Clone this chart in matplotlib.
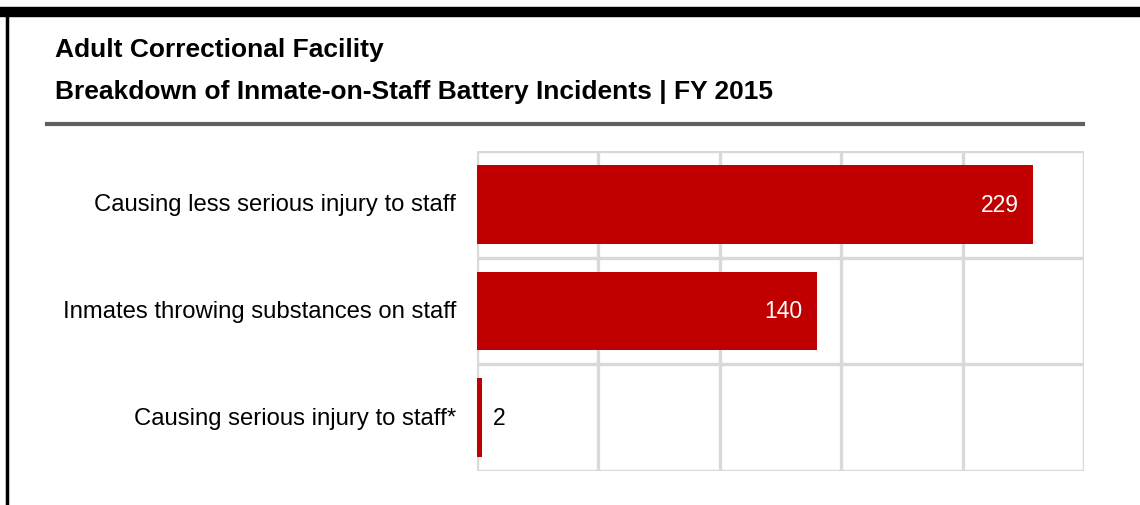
import numpy as np
import matplotlib.pyplot as plt
from matplotlib.lines import Line2D

plt.rcParams['font.family'] = ['Liberation Sans', 'DejaVu Sans']

categories = ['Causing less serious injury to staff',
              'Inmates throwing substances on staff',
              'Causing serious injury to staff*']
values = [229, 140, 2]
title1 = 'Adult Correctional Facility'
title2 = 'Breakdown of Inmate-on-Staff Battery Incidents | FY 2015'

red = '#C00000'
grid_col = '#D9D9D9'

fig = plt.figure(figsize=(11.4, 5.06), dpi=100)

# plot area in figure pixels: x 477..1084, y 152..472 (from top)
W, H = 1140, 506
ax = fig.add_axes([477 / W, 1 - 472 / H, (1084 - 477) / W, (472 - 152) / H])

y = np.arange(len(categories))
ax.barh(y, values, height=0.74, color=red, zorder=3)
ax.set_xlim(0, 250)
ax.set_ylim(len(categories) - 0.5, -0.5)

for xv in np.arange(0, 251, 50):
    ax.axvline(xv, color=grid_col, lw=2.4, zorder=1)
for yv in np.arange(-0.5, len(categories), 1.0):
    ax.axhline(yv, color=grid_col, lw=2.4, zorder=1)

for s in ax.spines.values():
    s.set_visible(False)
ax.set_xticks([])
ax.set_yticks([])

for i, v in enumerate(values):
    if v > 20:
        ax.text(v - 6, i, str(v), ha='right', va='center', color='white', fontsize=16.5, zorder=4)
    else:
        ax.text(v + 4.5, i, str(v), ha='left', va='center', color='black', fontsize=16.5, zorder=4)
    ax.text(-8.5, i, categories[i], ha='right', va='center', color='black', fontsize=17.2,
            clip_on=False)

# titles
fig.text(55 / W, 1 - 50 / H, title1, fontsize=19, fontweight='bold', va='center', ha='left')
fig.text(55 / W, 1 - 92 / H, title2, fontsize=19, fontweight='bold', va='center', ha='left')

# gray rule under title
fig.add_artist(Line2D([47 / W, 1083 / W], [1 - 125 / H, 1 - 125 / H],
                      transform=fig.transFigure, color='#606060', lw=3))

# black frame: top band and left line
fig.add_artist(Line2D([0, 1], [1 - 13 / H, 1 - 13 / H], transform=fig.transFigure,
                      color='black', lw=7.5))
fig.add_artist(Line2D([7 / W, 7 / W], [0, 1 - 13 / H], transform=fig.transFigure,
                      color='black', lw=2.5))

fig.savefig('out.png', dpi=100)
